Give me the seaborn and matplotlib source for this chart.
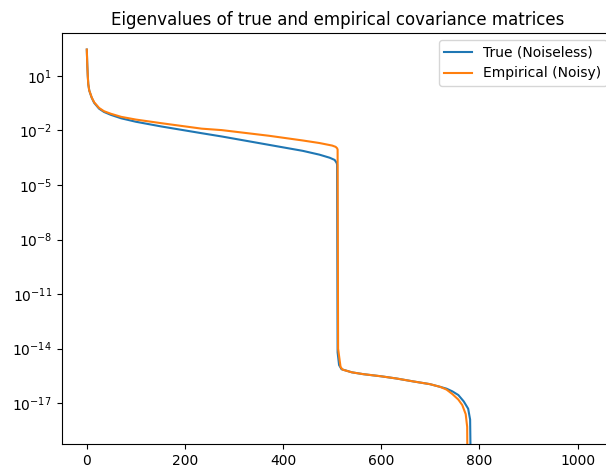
import numpy as np
import pandas as pd
import matplotlib
matplotlib.use("Agg")
import matplotlib.pyplot as plt
import seaborn as sns

# Eigenvalue index (x) and log10 eigenvalue
true_idx = [0, 1, 2, 3, 5, 10, 15, 25, 35, 49, 70, 100, 152, 234, 275, 371, 440, 474,
            495, 505, 509, 510, 511, 514, 519, 540, 563, 600, 631, 665, 699,
            720, 733, 745, 757, 768, 777, 781, 783]
true_log = [2.45, 1.6, 1.0, 0.55, 0.2, -0.2, -0.48, -0.8, -0.98, -1.14, -1.33, -1.52, -1.78,
            -2.15, -2.33, -2.79, -3.12, -3.33, -3.5, -3.62, -3.78, -3.88,
            -14.2, -14.9, -15.13, -15.3, -15.4, -15.52, -15.64, -15.8, -15.95,
            -16.1, -16.2, -16.35, -16.55, -16.9, -17.3, -17.9, -22.0]

emp_idx = [0, 1, 2, 3, 5, 10, 15, 25, 35, 49, 70, 100, 152, 234, 275, 371, 440, 474,
           500, 507, 510, 511, 512, 517, 521, 540, 563, 600, 631, 665, 699,
           720, 733, 745, 757, 765, 772, 775, 776]
emp_log = [2.45, 1.6, 1.0, 0.55, 0.2, -0.18, -0.45, -0.76, -0.94, -1.08, -1.25, -1.4, -1.6,
           -1.9, -1.98, -2.29, -2.55, -2.69, -2.83, -2.9, -2.98, -3.05,
           -14.0, -15.0, -15.15, -15.3, -15.4, -15.52, -15.64, -15.8, -15.95,
           -16.1, -16.25, -16.5, -16.8, -17.1, -17.6, -18.3, -22.0]

labels = ["True (Noiseless)", "Empirical (Noisy)"]
ytick_exps = [1, -2, -5, -8, -11, -14, -17]
xticks = [0, 200, 400, 600, 800, 1000]

df = pd.concat([
    pd.DataFrame({"index": true_idx, "eig": np.power(10.0, true_log), "series": labels[0]}),
    pd.DataFrame({"index": emp_idx, "eig": np.power(10.0, emp_log), "series": labels[1]}),
], ignore_index=True)

fig = plt.figure(figsize=(6.06, 4.73), dpi=100)
ax = fig.add_axes([0.1018, 0.0614, 0.9114, 0.8688])
sns.lineplot(data=df, x="index", y="eig", hue="series", palette=["#1f77b4", "#ff7f0e"],
             estimator=None, sort=False, linewidth=1.5, ax=ax)
ax.set_yscale("log")
ax.set_xlim(-51.15, 1074.15)
ax.set_ylim(10 ** -19.24, 10 ** 3.36)
ax.yaxis.set_major_locator(matplotlib.ticker.FixedLocator([10.0 ** e for e in ytick_exps]))
ax.yaxis.set_major_formatter(matplotlib.ticker.LogFormatterSciNotation())
ax.yaxis.set_minor_locator(matplotlib.ticker.NullLocator())
ax.set_xticks(xticks)
ax.set_xlabel("")
ax.set_ylabel("")
ax.tick_params(labelsize=10)
ax.set_title("Eigenvalues of true and empirical covariance matrices", fontsize=12)
leg = ax.legend(loc="upper right", fontsize=10)
leg.set_title(None)
fig.savefig("out.png", dpi=100)
